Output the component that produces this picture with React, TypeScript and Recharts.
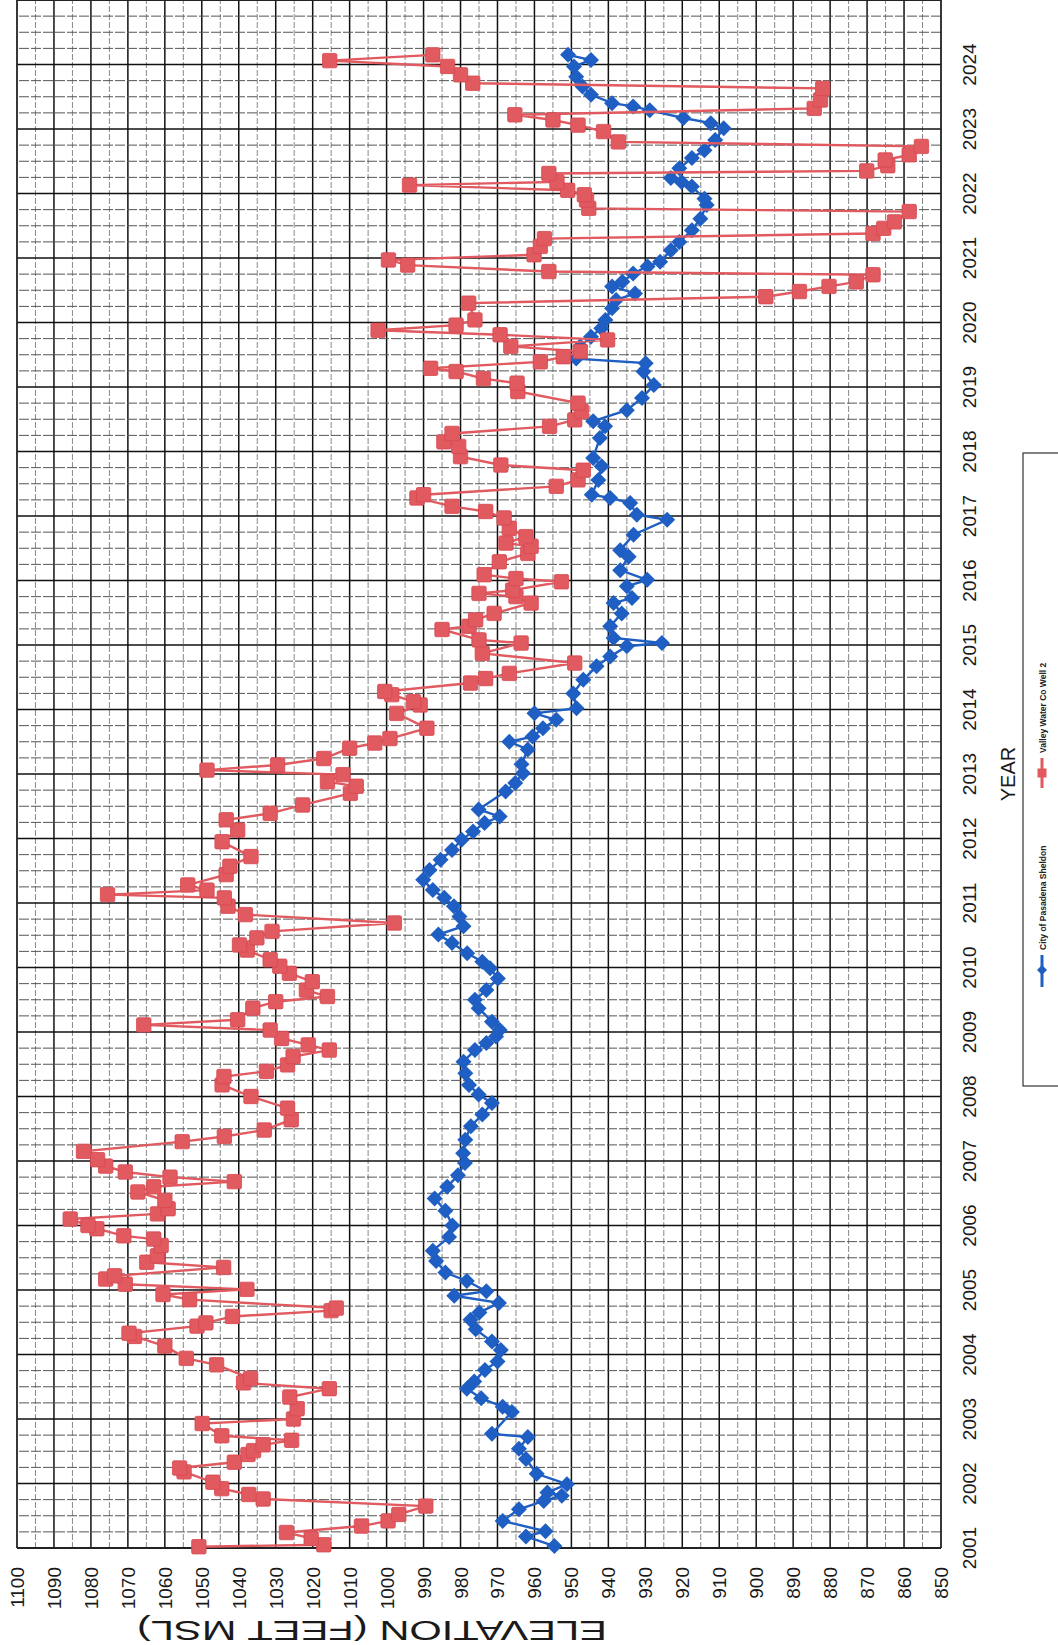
import React from 'react';
import { ScatterChart, Scatter, XAxis, YAxis, ReferenceLine } from 'recharts';

const elevationTicks = [850, 860, 870, 880, 890, 900, 910, 920, 930, 940, 950, 960, 970, 980, 990, 1000, 1010, 1020, 1030, 1040, 1050, 1060, 1070, 1080, 1090, 1100];
const yearTicks = [2001, 2002, 2003, 2004, 2005, 2006, 2007, 2008, 2009, 2010, 2011, 2012, 2013, 2014, 2015, 2016, 2017, 2018, 2019, 2020, 2021, 2022, 2023, 2024];

const seriesNames = ['City of Pasadena Sheldon', 'Valley Water Co Well 2'];

const sheldonYears = [
  2001.03, 2001.18, 2001.26, 2001.42, 2001.60, 2001.73, 2001.81, 2001.86, 2001.99, 2002.15,
  2002.38, 2002.54, 2002.72, 2002.77, 2003.11, 2003.19, 2003.32, 2003.47, 2003.58, 2003.76,
  2003.89, 2004.07, 2004.20, 2004.39, 2004.54, 2004.65, 2004.80, 2004.91, 2004.98, 2005.14,
  2005.27, 2005.45, 2005.61, 2005.82, 2006.00, 2006.23, 2006.42, 2006.60, 2006.78, 2006.97,
  2007.12, 2007.33, 2007.54, 2007.72, 2007.90, 2008.03, 2008.18, 2008.36, 2008.54, 2008.72,
  2008.83, 2008.93, 2009.03, 2009.16, 2009.37, 2009.50, 2009.65, 2009.83, 2009.99, 2010.09,
  2010.22, 2010.38, 2010.51, 2010.64, 2010.79, 2010.95, 2011.08, 2011.20, 2011.36, 2011.51,
  2011.67, 2011.82, 2011.98, 2012.11, 2012.24, 2012.34, 2012.45, 2012.73, 2012.86, 2013.01,
  2013.15, 2013.38, 2013.50, 2013.58, 2013.71, 2013.84, 2013.94, 2014.02, 2014.25, 2014.46,
  2014.67, 2014.82, 2014.98, 2015.03, 2015.11, 2015.29, 2015.49, 2015.65, 2015.73, 2015.91,
  2016.01, 2016.16, 2016.37, 2016.47, 2016.71, 2016.94, 2017.02, 2017.20, 2017.28, 2017.33,
  2017.56, 2017.77, 2017.90, 2018.21, 2018.39, 2018.47, 2018.64, 2018.83, 2019.03, 2019.24,
  2019.37, 2019.44, 2019.63, 2019.78, 2019.91, 2020.04, 2020.22, 2020.35, 2020.45, 2020.56,
  2020.63, 2020.76, 2020.87, 2020.94, 2021.12, 2021.25, 2021.43, 2021.61, 2021.82, 2021.92,
  2022.11, 2022.18, 2022.24, 2022.39, 2022.55, 2022.67, 2022.83, 2023.01, 2023.09, 2023.17,
  2023.29, 2023.35, 2023.40, 2023.53, 2023.66, 2023.81, 2023.97, 2024.07, 2024.15,
];
const sheldonElev = [
  954.6, 962.3, 957.0, 968.6, 964.2, 957.5, 952.6, 956.5, 951.2, 959.4,
  962.3, 964.2, 961.8, 971.5, 966.1, 968.6, 974.4, 978.3, 976.3, 973.4,
  970.0, 969.1, 971.5, 975.9, 977.3, 974.9, 969.6, 981.7, 973.0, 978.3,
  984.1, 986.6, 987.5, 983.1, 982.2, 984.1, 987.0, 983.6, 980.7, 978.8,
  979.3, 978.7, 977.2, 974.1, 971.5, 975.1, 977.7, 978.7, 979.2, 976.1,
  973.0, 970.4, 969.4, 971.5, 975.1, 976.1, 973.0, 969.9, 972.0, 974.1,
  978.2, 982.3, 986.0, 979.2, 980.3, 981.8, 984.4, 987.5, 990.1, 988.4,
  985.4, 982.3, 979.7, 976.6, 973.5, 969.4, 975.1, 967.8, 965.2, 963.1,
  963.5, 961.8, 966.8, 960.5, 957.7, 954.1, 960.0, 948.6, 949.5, 946.8,
  943.2, 939.5, 935.0, 925.5, 938.6, 939.5, 936.4, 938.6, 933.6, 935.0,
  929.5, 936.8, 934.5, 936.8, 933.2, 924.1, 932.3, 934.1, 939.5, 944.5,
  942.7, 941.8, 944.1, 942.3, 940.9, 944.1, 935.0, 930.9, 927.7, 930.5,
  929.9, 948.7, 947.6, 944.7, 941.9, 940.8, 939.0, 937.9, 932.8, 939.0,
  936.2, 933.3, 929.4, 926.0, 923.1, 920.8, 917.4, 915.1, 913.4, 914.0,
  917.4, 920.2, 923.1, 920.8, 917.4, 914.0, 911.1, 908.8, 912.3, 919.7,
  928.8, 933.3, 939.0, 944.7, 947.0, 948.7, 949.3, 944.7, 950.9,
];

const valleyYears = [
  2001.02, 2001.05, 2001.15, 2001.24, 2001.34, 2001.42, 2001.52, 2001.65, 2001.76, 2001.83,
  2001.92, 2002.02, 2002.18, 2002.24, 2002.33, 2002.45, 2002.51, 2002.60, 2002.67, 2002.74,
  2002.93, 2003.00, 2003.16, 2003.34, 2003.47, 2003.56, 2003.63, 2003.84, 2003.94, 2004.13,
  2004.28, 2004.33, 2004.44, 2004.49, 2004.59, 2004.68, 2004.72, 2004.85, 2004.93, 2005.01,
  2005.09, 2005.17, 2005.22, 2005.35, 2005.43, 2005.53, 2005.69, 2005.79, 2005.84, 2005.95,
  2006.00, 2006.10, 2006.18, 2006.26, 2006.39, 2006.52, 2006.60, 2006.68, 2006.75, 2006.83,
  2006.92, 2007.02, 2007.15, 2007.30, 2007.38, 2007.48, 2007.64, 2007.82, 2008.00, 2008.18,
  2008.31, 2008.39, 2008.49, 2008.62, 2008.72, 2008.80, 2008.90, 2009.03, 2009.11, 2009.19,
  2009.37, 2009.47, 2009.55, 2009.65, 2009.78, 2009.91, 2010.02, 2010.12, 2010.27, 2010.35,
  2010.46, 2010.56, 2010.69, 2010.82, 2010.95, 2011.08, 2011.13, 2011.20, 2011.28, 2011.44,
  2011.57, 2011.72, 2011.95, 2012.13, 2012.29, 2012.39, 2012.52, 2012.70, 2012.81, 2012.88,
  2012.99, 2013.06, 2013.14, 2013.24, 2013.40, 2013.48, 2013.55, 2013.71, 2013.94, 2014.07,
  2014.12, 2014.23, 2014.28, 2014.41, 2014.48, 2014.56, 2014.72, 2014.87, 2015.03, 2015.08,
  2015.24, 2015.29, 2015.39, 2015.49, 2015.65, 2015.75, 2015.80, 2015.85, 2015.98, 2016.03,
  2016.09, 2016.29, 2016.42, 2016.53, 2016.58, 2016.68, 2016.81, 2016.97, 2017.07, 2017.15,
  2017.28, 2017.33, 2017.46, 2017.56, 2017.71, 2017.79, 2017.92, 2018.08, 2018.15, 2018.28,
  2018.39, 2018.49, 2018.62, 2018.75, 2018.93, 2019.06, 2019.13, 2019.24, 2019.29, 2019.39,
  2019.47, 2019.55, 2019.63, 2019.73, 2019.81, 2019.88, 2019.96, 2020.04, 2020.30, 2020.40,
  2020.48, 2020.56, 2020.63, 2020.74, 2020.79, 2020.89, 2020.97, 2021.05, 2021.18, 2021.30,
  2021.38, 2021.46, 2021.56, 2021.72, 2021.77, 2021.90, 2021.98, 2022.05, 2022.13, 2022.18,
  2022.31, 2022.35, 2022.43, 2022.52, 2022.60, 2022.73, 2022.80, 2022.96, 2023.06, 2023.14,
  2023.22, 2023.32, 2023.45, 2023.63, 2023.71, 2023.84, 2023.97, 2024.06, 2024.15,
];
const valleyElev = [
  1050.8, 1017.0, 1020.4, 1027.1, 1006.8, 999.6, 996.7, 989.4, 1033.4, 1037.3,
  1044.6, 1047.0, 1054.8, 1056.0, 1041.2, 1037.5, 1036.0, 1033.4, 1025.7, 1044.6,
  1049.9, 1025.2, 1024.2, 1026.2, 1015.5, 1038.7, 1036.8, 1046.0, 1054.2, 1060.0,
  1068.2, 1069.7, 1051.3, 1048.9, 1041.7, 1015.0, 1013.6, 1053.3, 1060.5, 1037.8,
  1070.7, 1076.0, 1073.6, 1044.1, 1064.9, 1062.0, 1061.0, 1063.0, 1071.1, 1078.4,
  1080.8, 1085.6, 1062.0, 1059.1, 1060.0, 1067.3, 1063.0, 1041.2, 1058.6, 1070.7,
  1076.0, 1078.2, 1082.0, 1055.3, 1043.9, 1033.1, 1025.8, 1026.8, 1036.7, 1044.5,
  1044.0, 1032.5, 1026.8, 1025.3, 1015.5, 1021.2, 1028.4, 1031.5, 1065.7, 1040.3,
  1036.2, 1030.0, 1016.0, 1021.7, 1020.1, 1026.3, 1028.9, 1031.5, 1037.7, 1039.8,
  1035.1, 1031.0, 997.9, 1038.2, 1042.9, 1043.9, 1075.5, 1048.6, 1053.8, 1043.4,
  1042.4, 1036.7, 1044.5, 1040.3, 1043.4, 1031.5, 1022.7, 1009.8, 1008.2, 1016.0,
  1011.8, 1048.6, 1029.5, 1017.0, 1010.0, 1003.2, 999.1, 989.1, 997.3, 990.9,
  992.7, 998.6, 1000.5, 977.3, 973.2, 966.8, 949.1, 974.1, 963.6, 975.0,
  985.0, 977.7, 975.9, 970.9, 960.9, 965.0, 975.0, 965.9, 952.7, 965.0,
  973.6, 969.5, 961.8, 960.9, 967.7, 962.3, 966.8, 968.2, 973.2, 982.3,
  991.8, 990.0, 954.1, 948.2, 946.8, 969.1, 980.0, 980.5, 984.5, 982.3,
  955.9, 949.1, 947.3, 948.2, 964.5, 964.7, 973.8, 981.2, 988.1, 958.4,
  952.2, 947.6, 966.4, 940.2, 969.3, 1002.3, 981.2, 976.1, 977.8, 897.4,
  888.3, 880.3, 872.9, 868.4, 956.1, 994.3, 999.5, 960.1, 958.4, 957.3,
  868.4, 865.5, 862.6, 858.6, 945.3, 945.9, 946.5, 951.0, 993.8, 953.9,
  956.1, 870.1, 864.4, 865.1, 858.6, 855.3, 937.3, 941.3, 948.2, 955.0,
  965.3, 884.3, 882.6, 882.0, 976.7, 980.0, 983.5, 1015.4, 987.5,
];

const sheldonData = sheldonYears.map((yr, i) => ({ year: yr, elev: sheldonElev[i] }));
const valleyData = valleyYears.map((yr, i) => ({ year: yr, elev: valleyElev[i] }));

const elevGrid: number[] = [];
for (let v = 855; v < 1100; v += 5) elevGrid.push(v);
const yearGrid: number[] = [];
for (let q = 1; q < 96; q++) yearGrid.push(2001 + q / 4);

const FONT = "'Liberation Sans', Arial, Helvetica, sans-serif";
const BLUE = '#1F5EC2';
const RED = '#E05A60';

const ElevTick = (props: any) => {
  const { x, payload } = props;
  return (
    <text transform={`translate(${x + 7},1567) rotate(-90)`} textAnchor="end" fontSize={19} fontFamily={FONT} fill="#1a1a1a">
      {payload.value}
    </text>
  );
};

const YearTick = (props: any) => {
  const { y, payload } = props;
  return (
    <text transform={`translate(976,${y}) rotate(-90)`} textAnchor="middle" fontSize={19} fontFamily={FONT} fill="#1a1a1a">
      {payload.value}
    </text>
  );
};

const Square = (props: any) => {
  const { cx, cy } = props;
  if (cx == null || cy == null) return null;
  const s = 7.2;
  return <rect x={cx - s} y={cy - s} width={2 * s} height={2 * s} rx={1.5} fill={RED} stroke="#D84850" strokeWidth={0.8} />;
};

const Diamond = (props: any) => {
  const { cx, cy } = props;
  if (cx == null || cy == null) return null;
  const r = 8;
  return <path d={`M${cx},${cy - r}L${cx + r},${cy}L${cx},${cy + r}L${cx - r},${cy}Z`} fill={BLUE} />;
};

export default function App() {
  return (
    <div style={{ position: 'absolute', left: 0, top: 0, width: 1058, height: 1645, background: '#fff' }}>
      <ScatterChart width={1058} height={1645} margin={{ top: 0, right: 0, left: 17, bottom: 0 }}>
        <XAxis
          type="number"
          dataKey="elev"
          domain={[850, 1100]}
          reversed
          ticks={elevationTicks}
          interval={0}
          height={97}
          axisLine={false}
          tickLine={false}
          tick={<ElevTick />}
        />
        <YAxis
          type="number"
          dataKey="year"
          domain={[2001, 2025]}
          orientation="right"
          ticks={yearTicks}
          interval={0}
          width={117}
          axisLine={false}
          tickLine={false}
          tick={<YearTick />}
        />
        {elevGrid.map((v) => (
          <ReferenceLine
            key={'vx' + v}
            x={v}
            stroke={v % 10 === 0 ? '#111' : '#888'}
            strokeWidth={v % 10 === 0 ? 1.5 : 1}
            strokeDasharray={v % 10 === 0 ? undefined : '6 2'}
          />
        ))}
        {yearGrid.map((v) => (
          <ReferenceLine
            key={'hy' + v}
            y={v}
            stroke={Number.isInteger(v) ? '#111' : '#555'}
            strokeWidth={Number.isInteger(v) ? 1.5 : 1}
            strokeDasharray={Number.isInteger(v) ? undefined : '10 2'}
          />
        ))}
        <ReferenceLine x={850} stroke="#222" strokeWidth={1.8} />
        <ReferenceLine x={1100} stroke="#222" strokeWidth={1.8} />
        <ReferenceLine y={2001} stroke="#222" strokeWidth={1.8} />
        <ReferenceLine y={2025} stroke="#222" strokeWidth={1.8} />
        <Scatter
          name={seriesNames[0]}
          data={sheldonData}
          line={{ stroke: BLUE, strokeWidth: 2.4 }}
          lineType="joint"
          shape={<Diamond />}
          fill={BLUE}
          isAnimationActive={false}
        />
        <Scatter
          name={seriesNames[1]}
          data={valleyData}
          line={{ stroke: RED, strokeWidth: 2.4 }}
          lineType="joint"
          shape={<Square />}
          fill={RED}
          isAnimationActive={false}
        />
      </ScatterChart>
      <svg width={1058} height={1645} style={{ position: 'absolute', left: 0, top: 0, pointerEvents: 'none' }}>
        <text
          transform="translate(372,1630) rotate(180)"
          textAnchor="middle"
          dominantBaseline="central"
          fontSize={28}
          fontFamily={FONT}
          fill="#1a1a1a"
          textLength={470}
          lengthAdjust="spacingAndGlyphs"
        >
          ELEVATION (FEET MSL)
        </text>
        <text transform="translate(1015,774) rotate(-90)" textAnchor="middle" fontSize={20} fontFamily={FONT} fill="#1a1a1a">
          YEAR
        </text>
        <rect x={1023} y={453} width={60} height={633} fill="none" stroke="#333" strokeWidth={1.2} />
        <line x1={1042} y1={758} x2={1042} y2={788} stroke={RED} strokeWidth={3} />
        <rect x={1037.5} y={768.5} width={9} height={9} fill={RED} />
        <text transform="translate(1046,753) rotate(-90)" fontSize={8.5} fontWeight="bold" fontFamily={FONT} fill="#222">
          {seriesNames[1]}
        </text>
        <line x1={1042} y1={955} x2={1042} y2={987} stroke={BLUE} strokeWidth={3} />
        <path d="M1042,965L1047,970L1042,975L1037,970Z" fill={BLUE} />
        <text transform="translate(1046,950) rotate(-90)" fontSize={8.5} fontWeight="bold" fontFamily={FONT} fill="#222">
          {seriesNames[0]}
        </text>
      </svg>
    </div>
  );
}
